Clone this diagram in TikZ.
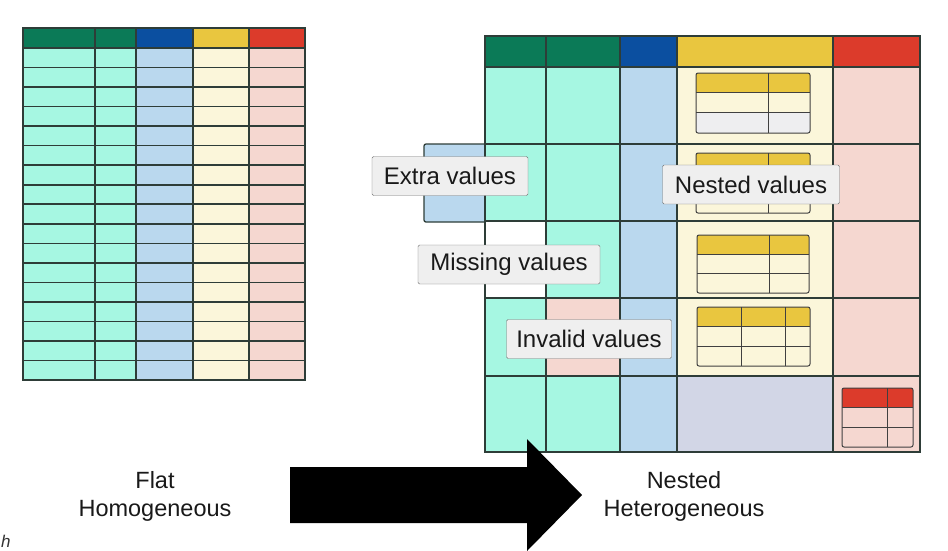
\documentclass[tikz,border=0pt]{standalone}
\usepackage{fontspec}
\setmainfont{Liberation Sans}

\definecolor{hdgreen}{HTML}{0B7A57}
\definecolor{hdblue}{HTML}{0B4FA0}
\definecolor{hdyellow}{HTML}{E9C63F}
\definecolor{hdred}{HTML}{DC3B2B}
\definecolor{cmint}{HTML}{A6F7E2}
\definecolor{cblue}{HTML}{BAD8EE}
\definecolor{cyellow}{HTML}{FBF6DA}
\definecolor{cpink}{HTML}{F5D7D0}
\definecolor{clav}{HTML}{D2D6E6}
\definecolor{cgrey}{HTML}{EEEEF0}
\definecolor{gridline}{HTML}{2E3D38}
\definecolor{tagfill}{HTML}{EFEFEF}

\tikzset{
  flatgrid/.style={draw=gridline, line width=1.6pt},
  nestgrid/.style={draw=gridline, line width=1.3pt},
  minigrid/.style={draw=black!75, line width=1pt},
  tag/.style={draw=black!55, fill=tagfill, rounded corners=1.5pt, inner sep=0pt,
    minimum height=39pt, font=\fontsize{24}{28}\selectfont, text=black!90},
  caption/.style={align=center, font=\fontsize{23.5}{28}\selectfont, text=black!90},
}

\begin{document}
\begin{tikzpicture}[x=1pt, y=-1pt]
    \useasboundingbox (0,0) rectangle (948,550);

    % Flat table
    % ---------------------
    \fill[hdgreen] (23,28) rectangle (136,48);
    \fill[hdblue] (136,28) rectangle (193,48);
    \fill[hdyellow] (193,28) rectangle (249,48);
    \fill[hdred] (249,28) rectangle (305,48);
    \fill[cmint] (23,48) rectangle (136,380);
    \fill[cblue] (136,48) rectangle (193,380);
    \fill[cyellow] (193,48) rectangle (249,380);
    \fill[cpink] (249,48) rectangle (305,380);
    \foreach \r in {0,...,16}
      \draw[flatgrid] (23,{48+\r*19.53}) -- (305,{48+\r*19.53});
    \foreach \c in {95,136,193,249}
      \draw[flatgrid] (\c,28) -- (\c,380);
    \draw[flatgrid] (23,28) rectangle (305,380);

    % Nested table
    % ---------------------
    \draw[nestgrid, fill=cblue, rounded corners=2pt] (424,144) rectangle (490,222);
    \fill[hdgreen] (485,36) rectangle (620,67);
    \fill[hdblue] (620,36) rectangle (677,67);
    \fill[hdyellow] (677,36) rectangle (833,67);
    \fill[hdred] (833,36) rectangle (920,67);
    \fill[cmint] (485,67) rectangle (620,452);
    \fill[cblue] (620,67) rectangle (677,452);
    \fill[cyellow] (677,67) rectangle (833,376);
    \fill[clav] (677,376) rectangle (833,452);
    \fill[cpink] (833,67) rectangle (920,452);
    \fill[white] (485,221) rectangle (546,298);
    \fill[cpink] (546,298) rectangle (620,376);
    \foreach \r in {67,144,221,298,376}
      \draw[nestgrid] (485,\r) -- (920,\r);
    \foreach \c in {546,620,677,833}
      \draw[nestgrid] (\c,36) -- (\c,452);
    \draw[nestgrid] (485,36) rectangle (920,452);

    % Values inside the yellow column
    % ---------------------
    \fill[hdyellow] (696,73) rectangle (810,92);
    \fill[cgrey] (696,112) rectangle (810,133);
    \draw[minigrid] (696,92) -- (810,92) (696,112) -- (810,112) (768,73) -- (768,133);
    \draw[minigrid, rounded corners=2pt] (696,73) rectangle (810,133);

    \fill[hdyellow] (696,153) rectangle (810,172);
    \draw[minigrid] (696,172) -- (810,172) (696,192) -- (810,192) (768,153) -- (768,213);
    \draw[minigrid, rounded corners=2pt] (696,153) rectangle (810,213);

    \fill[hdyellow] (697,235) rectangle (809,254);
    \draw[minigrid] (697,254) -- (809,254) (697,273) -- (809,273) (769,235) -- (769,293);
    \draw[minigrid, rounded corners=2pt] (697,235) rectangle (809,293);

    \fill[hdyellow] (697,307) rectangle (810,326);
    \draw[minigrid] (697,326) -- (810,326) (697,346) -- (810,346)
      (741,307) -- (741,366) (785,307) -- (785,366);
    \draw[minigrid, rounded corners=2pt] (697,307) rectangle (810,366);

    % Value inside the red column
    \fill[hdred] (842,388) rectangle (913,407);
    \draw[minigrid] (842,407) -- (913,407) (842,427) -- (913,427) (887,388) -- (887,447);
    \draw[minigrid, rounded corners=2pt] (842,388) rectangle (913,447);

    % Big arrow
    % ---------------------
    \fill[black] (290,467) -- (527,467) -- (527,439) -- (582,495)
      -- (527,551) -- (527,523) -- (290,523) -- cycle;

    % Labels
    % ---------------------
    \node[tag, minimum width=156pt] (tagextra) at (450,176) {Extra values};
    \node[tag, minimum width=182pt] (tagmissing) at (509,264.5) {Missing values};
    \node[tag, minimum width=165pt] (taginvalid) at (589,339) {Invalid values};
    \node[tag, minimum width=177pt] (tagnested) at (751,184.5) {Nested values};

    \node[caption] (capflat) at (155,496) {Flat\\Homogeneous};
    \node[caption] (capnested) at (684,496) {Nested\\Heterogeneous};
    \node[anchor=base west, inner sep=0pt, font=\itshape\fontsize{17}{17}\selectfont, text=black!80]
      (cutletter) at (1,547) {h};
  \end{tikzpicture}
\end{document}
